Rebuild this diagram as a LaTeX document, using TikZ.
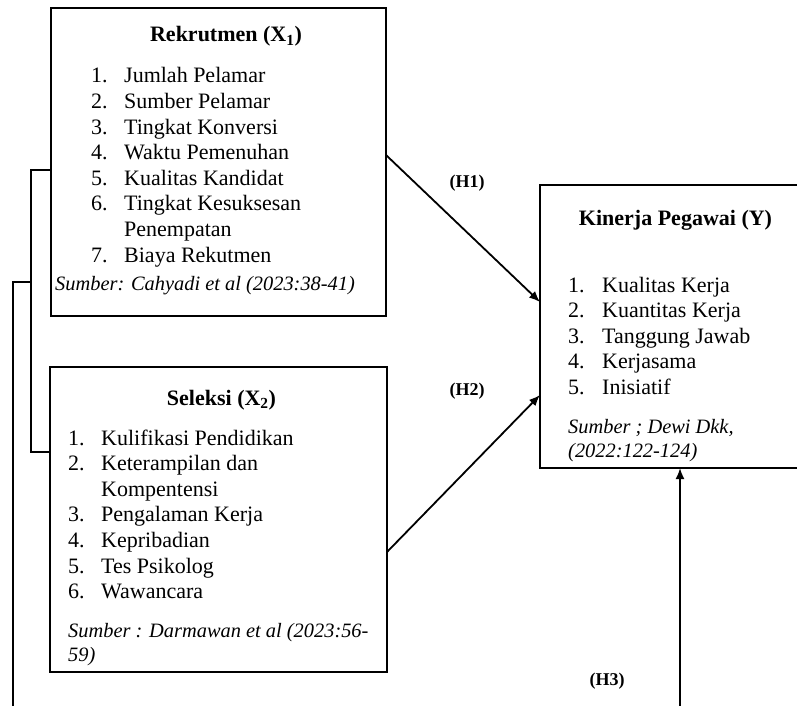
\documentclass[tikz,border=0pt]{standalone}
\usepackage{fontspec}
\setmainfont{Liberation Serif}
\usetikzlibrary{arrows.meta,calc}
\begin{document}
\begin{tikzpicture}[x=1pt,y=-1pt,
  box/.style={draw,line width=2pt,inner sep=0pt,outer sep=0pt},
  conn/.style={line width=1.8pt},
  arr/.style={conn,-{Latex[length=11pt,width=9pt]}},
  ttl/.style={font=\fontsize{22}{25.6}\selectfont\bfseries,anchor=base,inner sep=0pt},
  lst/.style={font=\fontsize{22}{25.6}\selectfont,anchor=base west,inner sep=0pt},
  src/.style={font=\fontsize{20.4}{24.8}\selectfont\itshape,anchor=base west,inner sep=0pt},
  hl/.style={font=\fontsize{18}{20}\selectfont\bfseries,anchor=base,inner sep=0pt}]
\clip (0,0) rectangle (797,706);
\fill[white] (0,0) rectangle (797,706);
% boxes
\node[box,minimum width=335pt,minimum height=308pt] (X1) at (218.5,162) {};
\node[box,minimum width=337pt,minimum height=305pt] (X2) at (218.5,519.5) {};
\node[box,minimum width=290pt,minimum height=283pt] (Y) at (685,326.5) {};
% X1 content
\node[ttl] (X1t) at (226,42) {Rekrutmen (X\textsubscript{1})};
\node[lst] (X1l) at (91,83) {\begin{tabular}[t]{@{}l@{}l@{}}
\makebox[33pt][l]{1.} & Jumlah Pelamar\\
\makebox[33pt][l]{2.} & Sumber Pelamar\\
\makebox[33pt][l]{3.} & Tingkat Konversi\\
\makebox[33pt][l]{4.} & Waktu Pemenuhan\\
\makebox[33pt][l]{5.} & Kualitas Kandidat\\
\makebox[33pt][l]{6.} & Tingkat Kesuksesan\\
 & Penempatan\\
\makebox[33pt][l]{7.} & Biaya Rekutmen
\end{tabular}};
\node[src] (X1s) at (55,290) {Sumber: Cahyadi et al (2023:38-41)};
% X2 content
\node[ttl] (X2t) at (221.5,405) {Seleksi (X\textsubscript{2})};
\node[lst] (X2l) at (68,445) {\begin{tabular}[t]{@{}l@{}l@{}}
\makebox[33pt][l]{1.} & Kulifikasi Pendidikan\\
\makebox[33pt][l]{2.} & Keterampilan dan\\
 & Kompentensi\\
\makebox[33pt][l]{3.} & Pengalaman Kerja\\
\makebox[33pt][l]{4.} & Kepribadian\\
\makebox[33pt][l]{5.} & Tes Psikolog\\
\makebox[33pt][l]{6.} & Wawancara
\end{tabular}};
\node[src] (X2s) at (68,637) {\begin{tabular}[t]{@{}l@{}}
Sumber : Darmawan et al (2023:56-\\
59)
\end{tabular}};
% Y content
\node[ttl] (Yt) at (675.5,225) {Kinerja Pegawai (Y)};
\node[lst] (Yl) at (568,292) {\begin{tabular}[t]{@{}l@{}l@{}}
\makebox[34pt][l]{1.} & Kualitas Kerja\\
\makebox[34pt][l]{2.} & Kuantitas Kerja\\
\makebox[34pt][l]{3.} & Tanggung Jawab\\
\makebox[34pt][l]{4.} & Kerjasama\\
\makebox[34pt][l]{5.} & Inisiatif
\end{tabular}};
\node[src] (Ys) at (568,433) {\begin{tabular}[t]{@{}l@{}}
Sumber ; Dewi Dkk,\\
(2022:122-124)
\end{tabular}};
% labels
\node[hl] (H1) at (467,187) {(H1)};
\node[hl] (H2) at (467,395) {(H2)};
\node[hl] (H3) at (607,685) {(H3)};
% connectors
\draw[conn] ([yshift=-8pt]X1.west) -- ++(-20,0) |- ([yshift=67.5pt]X2.west);
\coordinate (j) at (31,282);
\coordinate (e) at (13,712);
\draw[conn] (j) -| (e);
\draw[arr] ([yshift=7pt]X1.east) -- ([yshift=24.5pt]Y.west);
\draw[arr] ([yshift=-32.5pt]X2.east) -- ([yshift=-68.5pt]Y.west);
\coordinate (h3s) at (680,712);
\draw[arr] (h3s) -- (h3s |- Y.south);
\end{tikzpicture}
\end{document}
